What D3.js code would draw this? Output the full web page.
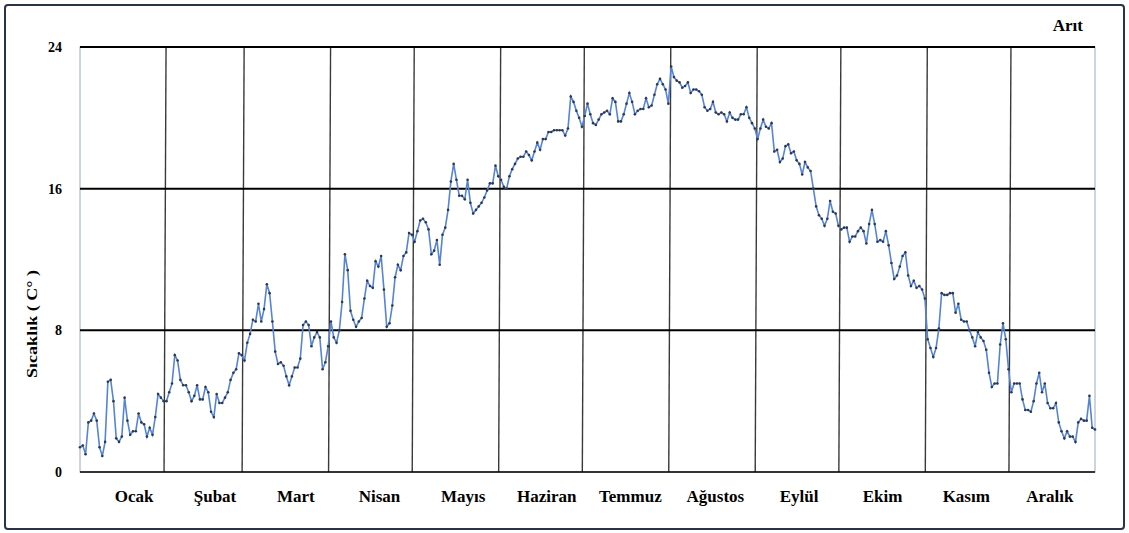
<!DOCTYPE html>
<html>
<head>
<meta charset="utf-8">
<script src="https://cdn.jsdelivr.net/npm/d3@7"></script>
<style>
  html, body { margin: 0; padding: 0; background: #ffffff; }
  svg { display: block; }
  text { font-family: "Liberation Serif", "Times New Roman", serif; font-weight: bold; fill: #000; }
</style>
</head>
<body>
<svg id="chart" width="1129" height="533"></svg>
<script>
// Daily mean temperature (°C), one array per month
const months = ["Ocak", "Şubat", "Mart", "Nisan", "Mayıs", "Haziran", "Temmuz", "Ağustos", "Eylül", "Ekim", "Kasım", "Aralık"];
const yTicks = [0, 8, 16, 24];
const stationName = "Arıt";
const yTitle = "Sıcaklık ( C° )";

const ocak    = [1.4, 1.5, 1.0, 2.8, 2.9, 3.3, 2.9, 1.4, 0.9, 1.7, 5.1, 5.2, 4.0, 1.9, 1.7, 2.0, 4.2, 2.9, 2.1, 2.3, 2.3, 3.3, 2.8, 2.7, 2.0, 2.5, 2.1, 3.1, 4.4, 4.2, 4.0];
const subat   = [4.0, 4.5, 5.0, 6.6, 6.3, 5.2, 4.9, 4.9, 4.5, 4.0, 4.3, 4.9, 4.1, 4.1, 4.8, 4.5, 3.4, 3.1, 4.4, 3.9, 3.9, 4.2, 4.5, 5.2, 5.6, 5.8, 6.7, 6.6];
const mart    = [6.3, 7.3, 7.8, 8.6, 8.5, 9.5, 8.5, 9.2, 10.6, 10.1, 8.5, 6.8, 6.1, 6.2, 6.0, 5.4, 4.9, 5.4, 5.9, 5.9, 6.4, 8.3, 8.5, 8.3, 7.1, 7.6, 7.9, 7.6, 5.8, 6.2, 7.1];
const nisan   = [8.5, 7.6, 7.3, 8.0, 9.6, 12.3, 11.4, 9.1, 8.6, 8.2, 8.5, 8.7, 9.8, 10.8, 10.5, 10.4, 11.9, 11.6, 12.2, 10.3, 8.2, 8.4, 9.4, 11.0, 11.7, 11.4, 12.2, 12.4, 13.5, 13.4];
const mayis   = [13.0, 13.6, 14.2, 14.3, 14.1, 13.7, 12.3, 12.5, 13.1, 11.7, 13.4, 13.8, 14.8, 16.4, 17.4, 16.5, 15.6, 15.6, 15.4, 16.5, 15.2, 14.6, 14.8, 15.0, 15.2, 15.5, 15.9, 16.3, 16.3, 17.3, 16.7];
const haziran = [16.5, 16.1, 16.0, 16.7, 17.1, 17.4, 17.7, 17.8, 17.8, 18.1, 17.9, 17.6, 18.1, 18.6, 18.2, 18.8, 18.8, 19.2, 19.2, 19.3, 19.3, 19.3, 19.3, 19.0, 19.4, 21.2, 20.9, 20.4, 20.0, 19.5];
const temmuz  = [20.1, 20.8, 20.2, 19.7, 19.6, 19.9, 20.2, 20.3, 20.4, 20.2, 21.1, 20.9, 19.8, 19.8, 20.2, 20.8, 21.4, 20.9, 20.2, 20.4, 20.5, 20.5, 21.1, 20.6, 20.7, 21.3, 21.9, 22.2, 21.9, 21.6, 20.8];
const agustos = [22.9, 22.3, 22.1, 22.0, 21.7, 21.8, 22.0, 21.4, 21.6, 21.6, 21.5, 21.3, 20.6, 20.4, 20.5, 20.9, 20.3, 20.2, 20.3, 20.2, 19.8, 20.3, 20.0, 19.9, 19.9, 20.2, 20.2, 20.6, 20.0, 19.7, 19.4];
const eylul   = [18.8, 19.4, 19.9, 19.5, 19.4, 19.7, 18.1, 18.2, 17.5, 17.7, 18.4, 18.5, 18.0, 18.1, 17.6, 17.4, 16.8, 17.5, 17.2, 17.0, 16.0, 15.0, 14.5, 14.3, 13.9, 14.3, 15.3, 14.7, 14.6, 13.9];
const ekim    = [13.7, 13.8, 13.8, 13.0, 13.3, 13.3, 13.6, 13.8, 13.6, 12.9, 14.0, 14.8, 14.0, 13.0, 13.1, 13.0, 13.6, 12.8, 11.8, 10.9, 11.1, 11.6, 12.2, 12.4, 11.1, 10.5, 10.8, 10.4, 10.5, 10.3, 9.8];
const kasim   = [7.5, 7.0, 6.5, 7.0, 8.1, 10.1, 10.0, 10.0, 10.1, 10.1, 9.0, 9.5, 8.6, 8.5, 8.5, 8.0, 7.6, 7.1, 7.9, 7.6, 7.4, 6.9, 5.6, 4.8, 5.0, 5.0, 7.2, 8.4, 7.5, 5.8];
const aralik  = [4.5, 5.0, 5.0, 5.0, 4.1, 3.5, 3.5, 3.4, 4.0, 5.0, 5.6, 4.5, 5.0, 3.9, 3.6, 3.6, 3.9, 2.8, 2.3, 1.9, 2.3, 2.0, 2.0, 1.7, 2.8, 3.0, 2.9, 2.9, 4.3, 2.5, 2.4];

const monthly = [ocak, subat, mart, nisan, mayis, haziran, temmuz, agustos, eylul, ekim, kasim, aralik];
const temps = monthly.flat();

// layout
const W = 1129, H = 533;
const plot = { left: 80, right: 1095, top: 47, bottom: 472 };

const svg = d3.select("#chart");

// outer frame
svg.append("rect")
  .attr("x", 5).attr("y", 5)
  .attr("width", W - 10).attr("height", H - 9)
  .attr("rx", 3)
  .attr("fill", "#ffffff")
  .attr("stroke", "#2a3447")
  .attr("stroke-width", 2);

const x = d3.scaleLinear().domain([0, temps.length - 1]).range([plot.left, plot.right]);
const y = d3.scaleLinear().domain([0, 24]).range([plot.bottom, plot.top]);
// month names sit slightly inset from the plot edges
const xLabel = d3.scaleLinear().domain([0, temps.length - 1]).range([plot.left + 13, plot.right - 4]);

// plot area border (thin)
svg.append("rect")
  .attr("x", plot.left).attr("y", plot.top)
  .attr("width", plot.right - plot.left).attr("height", plot.bottom - plot.top)
  .attr("fill", "none")
  .attr("stroke", "#9aa9bf")
  .attr("stroke-width", 1);

// month boundaries
let cum = 0;
const bounds = [];
const centers = [];
monthly.forEach((m, i) => {
  centers.push(cum + (m.length - 1) / 2);
  cum += m.length;
  if (i < monthly.length - 1) bounds.push(cum - 0.5);
});

svg.append("g").selectAll("line")
  .data(bounds)
  .join("line")
  .attr("x1", d => x(d) + 1).attr("x2", d => x(d) - 1)
  .attr("y1", plot.top).attr("y2", plot.bottom)
  .attr("stroke", "#3a3a3a")
  .attr("stroke-width", 1.4);

// horizontal grid at tick values
svg.append("g").selectAll("line")
  .data(yTicks.filter(t => t > 0))
  .join("line")
  .attr("x1", plot.left).attr("x2", plot.right)
  .attr("y1", d => y(d)).attr("y2", d => y(d))
  .attr("stroke", "#000")
  .attr("stroke-width", 2);

// baseline
svg.append("line")
  .attr("x1", plot.left).attr("x2", plot.right)
  .attr("y1", y(0)).attr("y2", y(0))
  .attr("stroke", "#000")
  .attr("stroke-width", 1.5);

// y axis labels
const yAxis = d3.axisLeft(y).tickValues(yTicks).tickSize(0).tickPadding(18).tickFormat(d3.format("d"));
const yg = svg.append("g").attr("transform", `translate(${plot.left},0)`).call(yAxis);
yg.select(".domain").remove();
yg.selectAll("text").attr("font-size", 14).attr("font-family", null).attr("fill", "#000");

// y title
svg.append("text")
  .attr("transform", `translate(37,324) rotate(-90)`)
  .attr("text-anchor", "middle")
  .attr("font-size", 15)
  .attr("textLength", 108)
  .attr("lengthAdjust", "spacingAndGlyphs")
  .text(yTitle);

// month labels
svg.append("g").selectAll("text")
  .data(months)
  .join("text")
  .attr("x", (d, i) => xLabel(centers[i]))
  .attr("y", 502)
  .attr("text-anchor", "middle")
  .attr("font-size", 17)
  .text(d => d);

// station label
svg.append("text")
  .attr("x", 1083).attr("y", 31)
  .attr("text-anchor", "end")
  .attr("font-size", 17)
  .text(stationName);

// temperature line
const line = d3.line().x((d, i) => x(i)).y(d => y(d));
svg.append("path")
  .datum(temps)
  .attr("fill", "none")
  .attr("stroke", "#5584d6")
  .attr("stroke-width", 1.6)
  .attr("d", line);

// daily markers
svg.append("g").selectAll("circle")
  .data(temps)
  .join("circle")
  .attr("cx", (d, i) => x(i))
  .attr("cy", d => y(d))
  .attr("r", 1.3)
  .attr("fill", "#2d3850");
</script>
</body>
</html>
